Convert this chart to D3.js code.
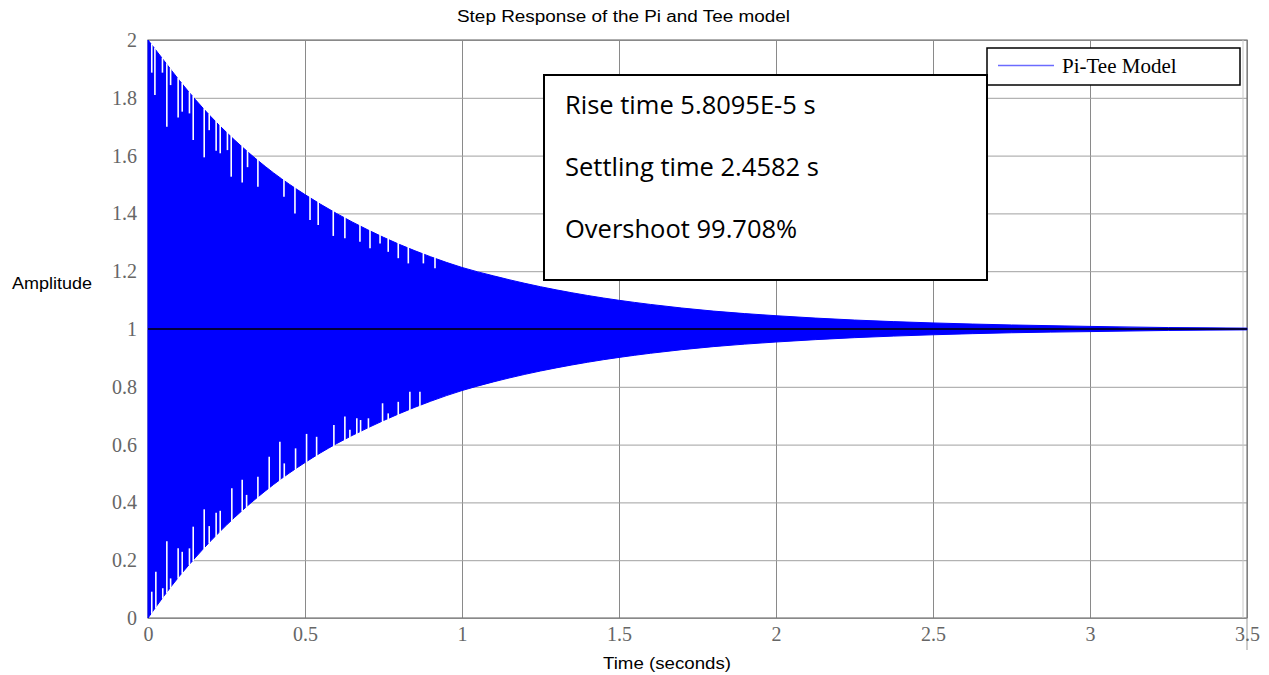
<!DOCTYPE html>
<html>
<head>
<meta charset="utf-8">
<script src="https://cdn.jsdelivr.net/npm/d3@7"></script>
<style>
  body { margin: 0; background: #fff; }
  svg { display: block; }
</style>
</head>
<body>
<div id="chart"></div>
<script>
// envelope of the oscillating step response
const timeSamples   = [0, 0.05, 0.1, 0.15, 0.2, 0.3, 0.4, 0.5, 0.6, 0.7, 0.8, 0.9, 1.0, 1.1, 1.2, 1.4, 1.6, 1.8, 2.0, 2.25, 2.5, 2.75, 3.0, 3.25, 3.5];
const upperEnvelope = [2.0, 1.93, 1.86, 1.795, 1.735, 1.63, 1.54, 1.465, 1.40, 1.343, 1.293, 1.25, 1.213, 1.184, 1.158, 1.116, 1.085, 1.062, 1.046, 1.031, 1.021, 1.014, 1.009, 1.005, 1.003];
const lowerEnvelope = [0.0, 0.075, 0.145, 0.208, 0.267, 0.372, 0.462, 0.538, 0.603, 0.658, 0.707, 0.75, 0.787, 0.817, 0.843, 0.885, 0.916, 0.939, 0.955, 0.97, 0.98, 0.987, 0.991, 0.995, 0.997];

// white dropouts in the blue band: [time, value reached]
const upperGaps = [[0.012, 1.887], [0.022, 1.81], [0.046, 1.887], [0.060, 1.70], [0.072, 1.844], [0.096, 1.732], [0.109, 1.752],
  [0.132, 1.746], [0.144, 1.654], [0.179, 1.594], [0.195, 1.688], [0.217, 1.617], [0.230, 1.608], [0.253, 1.619], [0.265, 1.527],
  [0.300, 1.507], [0.317, 1.560], [0.350, 1.492], [0.433, 1.458], [0.468, 1.400], [0.516, 1.377], [0.542, 1.360], [0.590, 1.322],
  [0.627, 1.314], [0.675, 1.302], [0.707, 1.279], [0.739, 1.296], [0.765, 1.267], [0.797, 1.245], [0.829, 1.227], [0.877, 1.227], [0.914, 1.210]];
const lowerGaps = [[0.012, 0.091], [0.025, 0.160], [0.047, 0.103], [0.060, 0.266], [0.072, 0.137], [0.096, 0.241], [0.109, 0.229],
  [0.132, 0.241], [0.144, 0.316], [0.179, 0.376], [0.195, 0.318], [0.217, 0.364], [0.230, 0.371], [0.267, 0.449], [0.300, 0.478],
  [0.314, 0.426], [0.350, 0.489], [0.386, 0.558], [0.420, 0.610], [0.434, 0.535], [0.470, 0.587], [0.505, 0.637], [0.537, 0.627],
  [0.592, 0.668], [0.627, 0.697], [0.643, 0.651], [0.665, 0.691], [0.677, 0.685], [0.702, 0.691], [0.747, 0.743], [0.765, 0.708],
  [0.797, 0.748], [0.834, 0.783], [0.866, 0.783]];

const steadyValue = 1;
const xDomain = [0, 3.5];
const yDomain = [0, 2];
const legendLabel = 'Pi-Tee Model';
const statsLines = ['Rise time 5.8095E-5 s', 'Settling time 2.4582 s', 'Overshoot 99.708%'];

const width = 1269;
const height = 675;
const margin = { top: 40, right: 22, bottom: 57, left: 148 };

const svg = d3.select('#chart')
  .append('svg')
  .attr('width', width)
  .attr('height', height);

const xScale = d3.scaleLinear().domain(xDomain).range([margin.left, width - margin.right]);
const yScale = d3.scaleLinear().domain(yDomain).range([height - margin.bottom, margin.top]);

// gridlines
svg.append('g')
  .attr('transform', `translate(0, ${height - margin.bottom})`)
  .call(d3.axisBottom(xScale).ticks(7).tickSize(-(height - margin.top - margin.bottom)).tickFormat(''))
  .call(g => g.select('.domain').remove())
  .selectAll('line').attr('stroke', '#8a8a8a');

svg.append('g')
  .attr('transform', `translate(${margin.left}, 0)`)
  .call(d3.axisLeft(yScale).ticks(10).tickSize(-(width - margin.left - margin.right)).tickFormat(''))
  .call(g => g.select('.domain').remove())
  .selectAll('line').attr('stroke', '#a0a0a0');

// frame
svg.append('rect')
  .attr('x', margin.left)
  .attr('y', margin.top)
  .attr('width', width - margin.left - margin.right)
  .attr('height', height - margin.top - margin.bottom)
  .attr('fill', 'none')
  .attr('stroke', '#7a7a7a')
  .attr('stroke-width', 1.2);

// second faint right edge
svg.append('line')
  .attr('x1', xScale(xDomain[1]) - 4)
  .attr('x2', xScale(xDomain[1]) - 4)
  .attr('y1', margin.top)
  .attr('y2', height - margin.bottom)
  .attr('stroke', '#c8c8c8');

// response band
const bandData = timeSamples.map((t, i) => ({ t, hi: upperEnvelope[i], lo: lowerEnvelope[i] }));
const band = d3.area()
  .x(d => xScale(d.t))
  .y0(d => yScale(d.lo))
  .y1(d => yScale(d.hi))
  .curve(d3.curveMonotoneX);

svg.append('path')
  .datum(bandData)
  .attr('d', band)
  .attr('fill', '#0000ff')
  .attr('stroke', '#0000ff')
  .attr('stroke-width', 1);

const upperAt = d3.scaleLinear().domain(timeSamples).range(upperEnvelope);
const lowerAt = d3.scaleLinear().domain(timeSamples).range(lowerEnvelope);

const gaps = svg.append('g').attr('stroke', '#fff').attr('stroke-width', 1.6);
gaps.selectAll('.ug')
  .data(upperGaps)
  .join('line')
  .attr('x1', d => xScale(d[0]))
  .attr('x2', d => xScale(d[0]))
  .attr('y1', d => yScale(upperAt(d[0])) - 1)
  .attr('y2', d => yScale(d[1]));
gaps.selectAll('.lg')
  .data(lowerGaps)
  .join('line')
  .attr('x1', d => xScale(d[0]))
  .attr('x2', d => xScale(d[0]))
  .attr('y1', d => yScale(lowerAt(d[0])) + 1)
  .attr('y2', d => yScale(d[1]));

// steady state line
svg.append('line')
  .attr('x1', xScale(xDomain[0]))
  .attr('x2', xScale(xDomain[1]))
  .attr('y1', yScale(steadyValue))
  .attr('y2', yScale(steadyValue))
  .attr('stroke', '#000')
  .attr('stroke-width', 1.5);

// stray tick below 3.5
svg.append('line')
  .attr('x1', xScale(xDomain[1]))
  .attr('x2', xScale(xDomain[1]))
  .attr('y1', yScale(0))
  .attr('y2', yScale(0) + 32)
  .attr('stroke', '#9a9a9a');

// axes labels
const xAxis = svg.append('g')
  .attr('transform', `translate(0, ${height - margin.bottom})`)
  .call(d3.axisBottom(xScale).ticks(7).tickSize(0).tickPadding(9).tickFormat(d3.format('~g')));
const yAxis = svg.append('g')
  .attr('transform', `translate(${margin.left}, 0)`)
  .call(d3.axisLeft(yScale).ticks(10).tickSize(0).tickPadding(11).tickFormat(d3.format('~g')));

[xAxis, yAxis].forEach(g => {
  g.select('.domain').remove();
  g.selectAll('text')
    .attr('fill', '#666')
    .style('font-family', '"Liberation Serif", "Times New Roman", serif')
    .style('font-size', '20px');
});

// titles (the source text is slightly stretched sideways)
svg.append('text')
  .attr('x', 457)
  .attr('y', 22)
  .attr('textLength', 333)
  .attr('lengthAdjust', 'spacingAndGlyphs')
  .style('font-family', '"Liberation Sans", Arial, sans-serif')
  .style('font-size', '16px')
  .text('Step Response of the Pi and Tee model');

svg.append('text')
  .attr('x', 12)
  .attr('y', 289)
  .attr('textLength', 80)
  .attr('lengthAdjust', 'spacingAndGlyphs')
  .style('font-family', '"Liberation Sans", Arial, sans-serif')
  .style('font-size', '16px')
  .text('Amplitude');

svg.append('text')
  .attr('x', 603)
  .attr('y', 669)
  .attr('textLength', 128)
  .attr('lengthAdjust', 'spacingAndGlyphs')
  .style('font-family', '"Liberation Sans", Arial, sans-serif')
  .style('font-size', '16px')
  .text('Time (seconds)');

// legend
const legend = svg.append('g').attr('transform', 'translate(987, 48)');
legend.append('rect')
  .attr('width', 253)
  .attr('height', 37)
  .attr('fill', '#fff')
  .attr('stroke', '#000')
  .attr('stroke-width', 1.5);
legend.append('line')
  .attr('x1', 11).attr('x2', 67)
  .attr('y1', 17.5).attr('y2', 17.5)
  .attr('stroke', '#6b6bff')
  .attr('stroke-width', 1.3);
legend.append('text')
  .attr('x', 75)
  .attr('y', 25)
  .style('font-family', '"Liberation Serif", "Times New Roman", serif')
  .style('font-size', '21px')
  .text(legendLabel);

// stats box
const box = svg.append('g').attr('transform', 'translate(544, 75)');
box.append('rect')
  .attr('width', 443)
  .attr('height', 205)
  .attr('fill', '#fff')
  .attr('stroke', '#000')
  .attr('stroke-width', 2);
box.selectAll('text')
  .data(statsLines)
  .join('text')
  .attr('x', 21)
  .attr('y', (d, i) => 39 + i * 62)
  .style('font-family', '"Open Sans", sans-serif')
  .style('font-size', '25.5px')
  .text(d => d);
</script>
</body>
</html>
